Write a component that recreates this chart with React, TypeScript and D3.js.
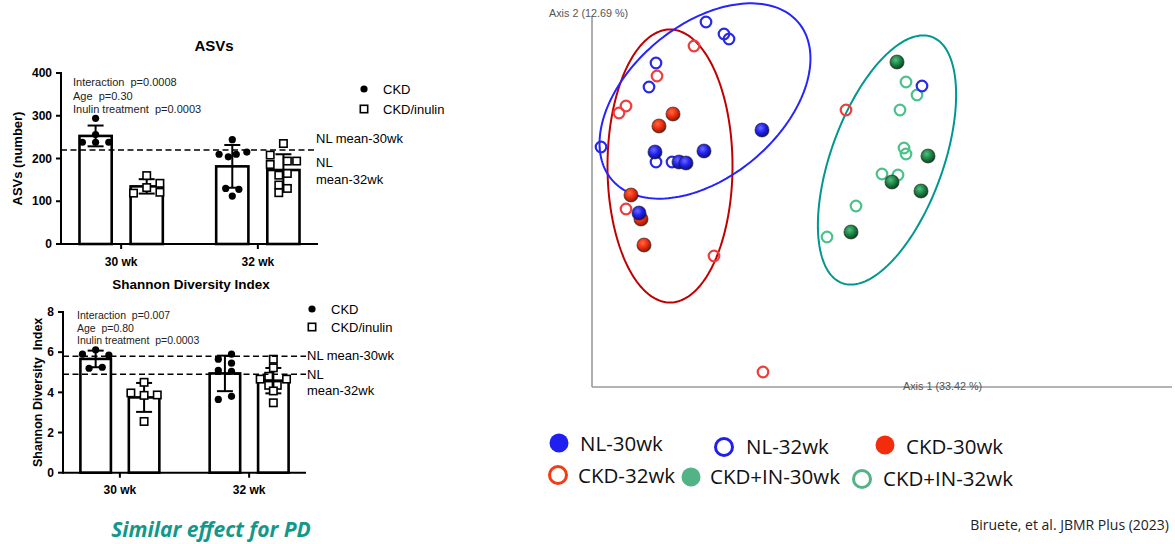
import * as d3 from "d3";

const groups = ["30 wk", "32 wk"];
const series = ["CKD", "CKD/inulin"];

// ASVs (number), one value per mouse
const asvCkd30 = [294, 256, 238, 238, 238];
const asvInulin30 = [160, 119, 132, 142, 121];
const asvCkd32 = [244, 210, 204, 210, 215, 130, 128, 112];
const asvInulin32 = [235, 208, 186, 194, 194, 161, 165, 138, 130, 120];
// horizontal spread of the dots (in marker slots)
const asvCkd30Jit = [0, 0, -2, 0, 2];
const asvInulin30Jit = [0, -2, 0, 2, 2];
const asvCkd32Jit = [0, -2, -0.6, 0.6, 2.2, -1, 1, 0];
const asvInulin32Jit = [0, -2, -2, 0.6, 2, -0.7, 0.6, -0.7, 0.6, -0.7];
const asvNlMeans = [220];
const asvTicks = [0, 100, 200, 300, 400];
const asvStats = ["Interaction  p=0.0008", "Age  p=0.30", "Inulin treatment  p=0.0003"];

// Shannon diversity index
const shCkd30 = [6.12, 5.9, 5.85, 5.2, 5.25];
const shInulin30 = [4.5, 3.97, 3.85, 3.87, 2.55];
const shCkd32 = [5.9, 5.65, 5.45, 5.1, 5.05, 3.65, 3.8];
const shInulin32 = [5.65, 5.22, 4.8, 4.66, 4.66, 4.35, 4.35, 4.07, 3.48];
const shCkd30Jit = [0, -2, 2, -1, 1];
const shInulin30Jit = [0, -2, 0, 2, 0];
const shCkd32Jit = [1, -1, 1, -1, 1, -1, 1];
const shInulin32Jit = [0, 0, -0.7, -2, 2, -0.7, 0.6, 0, 0];
const shNlMeans = [5.8, 4.9];
const shTicks = [0, 2, 4, 6, 8];
const shStats = ["Interaction  p=0.007", "Age  p=0.80", "Inulin treatment  p=0.0003"];

// PCoA scores [axis 1, axis 2]
const nl30 = [[-0.08, 0.107], [-0.187, 0.085], [-0.138, 0.086], [-0.163, 0.075], [-0.156, 0.074], [-0.203, 0.024]];
const nl32 = [[-0.136, 0.215], [-0.118, 0.203], [-0.113, 0.198], [-0.186, 0.174], [-0.193, 0.15], [-0.241, 0.09], [-0.186, 0.075], [-0.17, 0.075], [0.08, 0.151]];
const ckd30 = [[-0.169, 0.123], [-0.183, 0.111], [-0.211, 0.042], [-0.201, 0.018], [-0.198, -0.008]];
const ckd32 = [[-0.148, 0.191], [-0.185, 0.161], [-0.216, 0.131], [-0.223, 0.124], [-0.216, 0.028], [-0.128, -0.019], [-0.079, -0.135], [0.004, 0.127]];
const in30 = [[0.055, 0.175], [0.086, 0.081], [0.05, 0.055], [0.079, 0.046], [0.009, 0.005]];
const in32 = [[0.064, 0.155], [0.075, 0.142], [0.058, 0.127], [0.062, 0.089], [0.064, 0.083], [0.04, 0.063], [0.056, 0.062], [0.014, 0.031], [-0.015, 0]];
// confidence ellipses: centre, semi-axes, rotation (deg)
const ellipseCkd = { c: [-0.172, 0.071], a: 0.0625, b: 0.1365, rot: 0 };
const ellipseNl = { c: [-0.137, 0.136], a: 0.122, b: 0.076, rot: 40 };
const ellipseIn = { c: [0.045, 0.077], a: 0.131, b: 0.056, rot: 70 };

const sans = "'Liberation Sans', Arial, sans-serif";

const asvLayout = {
  x0: 61, x1: 318, top: 73, bottom: 244, inner: 57, barW: 0.37,
  titleX: 214, titleY: 51, titleSize: 15,
  statsX: 73, statsY: 86, statsStep: 13.5, statsSize: 11,
  legX: 364, legY: 89, legStep: 20,
  nlX: 316, nlY: [143, 167, 184],
  yLabelX: 22, tickX: 52, xLabelY: 266,
};
const shLayout = {
  x0: 63, x1: 306, top: 312, bottom: 472.7, inner: 54, barW: 0.37,
  titleX: 191, titleY: 289, titleSize: 13.5,
  statsX: 77, statsY: 319, statsStep: 12.5, statsSize: 10.5,
  legX: 312, legY: 309, legStep: 18,
  nlX: 307, nlY: [360, 379, 395],
  yLabelX: 42, tickX: 54, xLabelY: 494,
};

const SLOT = 6.6;

function BarPanel({ L, title, yLabel, yMax, ticks, bars, nlMeans, stats }: any) {
  const y = d3.scaleLinear().domain([0, yMax]).range([L.bottom, L.top]);
  const gx = d3.scalePoint().domain(groups).range([L.x0, L.x1]).padding(0.44);
  const sx = d3.scaleBand().domain(series).range([-L.inner, L.inner]).paddingInner(L.barW).paddingOuter(0.3);
  const bw = sx.bandwidth();
  return (
    <g fontFamily={sans}>
      <text x={L.titleX} y={L.titleY} textAnchor="middle" fontWeight="bold" fontSize={L.titleSize}>{title}</text>
      {bars.map((b: any, i: number) => {
        const left = (gx(b.group) as number) + (sx(b.series) as number);
        const cx = left + bw / 2;
        const m = d3.mean(b.values) as number;
        const sd = d3.deviation(b.values) as number;
        return (
          <g key={i}>
            <rect x={left} y={y(m)} width={bw} height={L.bottom - y(m)} fill="#fff" stroke="#000" strokeWidth={2.6} />
            <line x1={cx} x2={cx} y1={y(m - sd)} y2={y(m + sd)} stroke="#000" strokeWidth={2} />
            {[m - sd, m + sd].map((v, k) => (
              <line key={k} x1={cx - 8} x2={cx + 8} y1={y(v)} y2={y(v)} stroke="#000" strokeWidth={2} />
            ))}
            {b.values.map((v: number, k: number) => {
              const px = cx + b.jitter[k] * SLOT;
              return b.series === "CKD" ? (
                <circle key={k} cx={px} cy={y(v)} r={3.6} fill="#000" />
              ) : (
                <rect key={k} x={px - 3.7} y={y(v) - 3.7} width={7.4} height={7.4} fill="#fff" stroke="#000" strokeWidth={1.6} />
              );
            })}
          </g>
        );
      })}
      {nlMeans.map((v: number, i: number) => (
        <line key={i} x1={L.x0} x2={L.nlX - 1} y1={y(v)} y2={y(v)} stroke="#000" strokeWidth={1.5} strokeDasharray="6 3.5" />
      ))}
      <text x={L.nlX} y={L.nlY[0]} fontSize={13}>NL mean-30wk</text>
      <text x={L.nlX} y={L.nlY[1]} fontSize={13}>NL</text>
      <text x={L.nlX} y={L.nlY[2]} fontSize={13}>mean-32wk</text>
      {stats.map((s: string, i: number) => (
        <text key={i} x={L.statsX} y={L.statsY + i * L.statsStep} fontSize={L.statsSize} fill="#222" style={{ whiteSpace: "pre" }}>{s}</text>
      ))}
      <circle cx={L.legX} cy={L.legY} r={3.6} fill="#000" />
      <text x={L.legX + 19} y={L.legY + 4.5} fontSize={13}>CKD</text>
      <rect x={L.legX - 3.7} y={L.legY + L.legStep - 3.7} width={7.4} height={7.4} fill="#fff" stroke="#000" strokeWidth={1.6} />
      <text x={L.legX + 19} y={L.legY + L.legStep + 4.5} fontSize={13}>CKD/inulin</text>
      {/* axes */}
      <line x1={L.x0} x2={L.x0} y1={L.top - 1} y2={L.bottom + 1} stroke="#000" strokeWidth={2} />
      <line x1={L.x0 - 1} x2={L.x1} y1={L.bottom} y2={L.bottom} stroke="#000" strokeWidth={2} />
      {ticks.map((t: number) => (
        <g key={t}>
          <line x1={L.x0 - 5} x2={L.x0} y1={y(t)} y2={y(t)} stroke="#000" strokeWidth={2} />
          <text x={L.tickX} y={y(t)} dy="0.35em" textAnchor="end" fontWeight="bold" fontSize={12}>{t}</text>
        </g>
      ))}
      {groups.map((g) => (
        <g key={g}>
          <line x1={gx(g)} x2={gx(g)} y1={L.bottom} y2={L.bottom + 5} stroke="#000" strokeWidth={2} />
          <text x={gx(g)} y={L.xLabelY} textAnchor="middle" fontWeight="bold" fontSize={12}>{g}</text>
        </g>
      ))}
      <text transform={`translate(${L.yLabelX},${(L.top + L.bottom) / 2}) rotate(-90)`} textAnchor="middle" fontWeight="bold" fontSize={L.yLabelSize || 13} style={{ whiteSpace: "pre" }}>{yLabel}</text>
    </g>
  );
}

function Pcoa() {
  const x = d3.scaleLinear().domain([-0.25, 0.33]).range([592, 1172]);
  const y = d3.scaleLinear().domain([-0.15, 0.227]).range([387, 10]);
  const ellipsePath = (e: any) => {
    const th = (e.rot * Math.PI) / 180;
    const pts = d3.range(0, 360, 2).map((d) => {
      const t = (d * Math.PI) / 180;
      const u = e.a * Math.cos(t), v = e.b * Math.sin(t);
      return [x(e.c[0] + u * Math.cos(th) - v * Math.sin(th)), y(e.c[1] + u * Math.sin(th) + v * Math.cos(th))] as [number, number];
    });
    return d3.line()(pts) + "Z";
  };
  const open = (pts: number[][], color: string, key: string) =>
    pts.map((p, i) => <circle key={key + i} cx={x(p[0])} cy={y(p[1])} r={5.3} fill="none" stroke={color} strokeWidth={2.2} />);
  const filled = (pts: number[][], grad: string, key: string) =>
    pts.map((p, i) => <circle key={key + i} cx={x(p[0])} cy={y(p[1])} r={7} fill={`url(#${grad})`} stroke="#1a1a1a" strokeOpacity={0.55} strokeWidth={1.2} />);
  return (
    <g>
      <defs>
        <radialGradient id="gBlue" cx="0.4" cy="0.35" r="0.7">
          <stop offset="0" stopColor="#6a6aff" />
          <stop offset="0.5" stopColor="#2020ee" />
          <stop offset="1" stopColor="#0c0c70" />
        </radialGradient>
        <radialGradient id="gRed" cx="0.4" cy="0.35" r="0.7">
          <stop offset="0" stopColor="#ff6a40" />
          <stop offset="0.5" stopColor="#ec2c0e" />
          <stop offset="1" stopColor="#7a1806" />
        </radialGradient>
        <radialGradient id="gGreen" cx="0.4" cy="0.35" r="0.7">
          <stop offset="0" stopColor="#50c080" />
          <stop offset="0.5" stopColor="#1c8444" />
          <stop offset="1" stopColor="#0a3a1c" />
        </radialGradient>
      </defs>
      <line x1={x(-0.25)} x2={x(-0.25)} y1={16} y2={y(-0.15)} stroke="#9a9a9a" strokeWidth={1.6} />
      <line x1={x(-0.25)} x2={x(0.33)} y1={y(-0.15)} y2={y(-0.15)} stroke="#9a9a9a" strokeWidth={1.6} />
      <text x={549} y={17} fontFamily={sans} fontSize={10.8} fill="#555">Axis 2 (12.69 %)</text>
      <text x={903} y={390} fontFamily={sans} fontSize={10.8} fill="#555">Axis 1 (33.42 %)</text>
      <path d={ellipsePath(ellipseCkd)} fill="none" stroke="#c00000" strokeWidth={2} />
      <path d={ellipsePath(ellipseNl)} fill="none" stroke="#2424ff" strokeWidth={2} />
      <path d={ellipsePath(ellipseIn)} fill="none" stroke="#00978f" strokeWidth={2} />
      {open(in32, "#4cc28a", "i32")}
      {open(ckd32, "#f03c3c", "c32")}
      {open(nl32, "#2a2ae6", "n32")}
      {filled(ckd30, "gRed", "c30")}
      {filled(nl30, "gBlue", "n30")}
      {filled(in30, "gGreen", "i30")}
    </g>
  );
}

const legendItems = [
  { label: "NL-30wk", color: "#1f1ff0", fill: true, cx: 559, cy: 443, tx: 580, ty: 451 },
  { label: "NL-32wk", color: "#1f1ff0", fill: false, cx: 724, cy: 447, tx: 746, ty: 454 },
  { label: "CKD-30wk", color: "#f22c0c", fill: true, cx: 885, cy: 445, tx: 906, ty: 454 },
  { label: "CKD-32wk", color: "#f23c14", fill: false, cx: 558, cy: 475, tx: 578, ty: 483 },
  { label: "CKD+IN-30wk", color: "#52b386", fill: true, cx: 691, cy: 477, tx: 710, ty: 484 },
  { label: "CKD+IN-32wk", color: "#52b386", fill: false, cx: 862, cy: 479, tx: 883, ty: 486 },
];

export default function App() {
  return (
    <svg width={1175} height={544} style={{ position: "absolute", left: 0, top: 0, background: "#fff" }}>
      <BarPanel
        L={asvLayout}
        title="ASVs"
        yLabel="ASVs (number)"
        yMax={400}
        ticks={asvTicks}
        nlMeans={asvNlMeans}
        stats={asvStats}
        bars={[
          { group: groups[0], series: series[0], values: asvCkd30, jitter: asvCkd30Jit },
          { group: groups[0], series: series[1], values: asvInulin30, jitter: asvInulin30Jit },
          { group: groups[1], series: series[0], values: asvCkd32, jitter: asvCkd32Jit },
          { group: groups[1], series: series[1], values: asvInulin32, jitter: asvInulin32Jit },
        ]}
      />
      <BarPanel
        L={{ ...shLayout, yLabelSize: 12.5 }}
        title="Shannon Diversity Index"
        yLabel="Shannon Diversity  Index"
        yMax={8}
        ticks={shTicks}
        nlMeans={shNlMeans}
        stats={shStats}
        bars={[
          { group: groups[0], series: series[0], values: shCkd30, jitter: shCkd30Jit },
          { group: groups[0], series: series[1], values: shInulin30, jitter: shInulin30Jit },
          { group: groups[1], series: series[0], values: shCkd32, jitter: shCkd32Jit },
          { group: groups[1], series: series[1], values: shInulin32, jitter: shInulin32Jit },
        ]}
      />
      <Pcoa />
      <g fontFamily="'Open Sans', 'Noto Sans', sans-serif" fontSize={20.5}>
        {legendItems.map((d) => (
          <g key={d.label}>
            <circle cx={d.cx} cy={d.cy} r={d.fill ? 9.5 : 8.5} fill={d.fill ? d.color : "none"} stroke={d.fill ? "none" : d.color} strokeWidth={3} />
            <text x={d.tx} y={d.ty} fill="#111">{d.label}</text>
          </g>
        ))}
      </g>
      <text x={211} y={537} textAnchor="middle" fontFamily="'Open Sans', sans-serif" fontWeight="bold" fontStyle="italic" fontSize={21} fill="#12988a">Similar effect for PD</text>
      <text x={1169} y={530} textAnchor="end" fontFamily="'Open Sans', sans-serif" fontSize={14} fill="#222">Biruete, et al. JBMR Plus (2023)</text>
    </svg>
  );
}
